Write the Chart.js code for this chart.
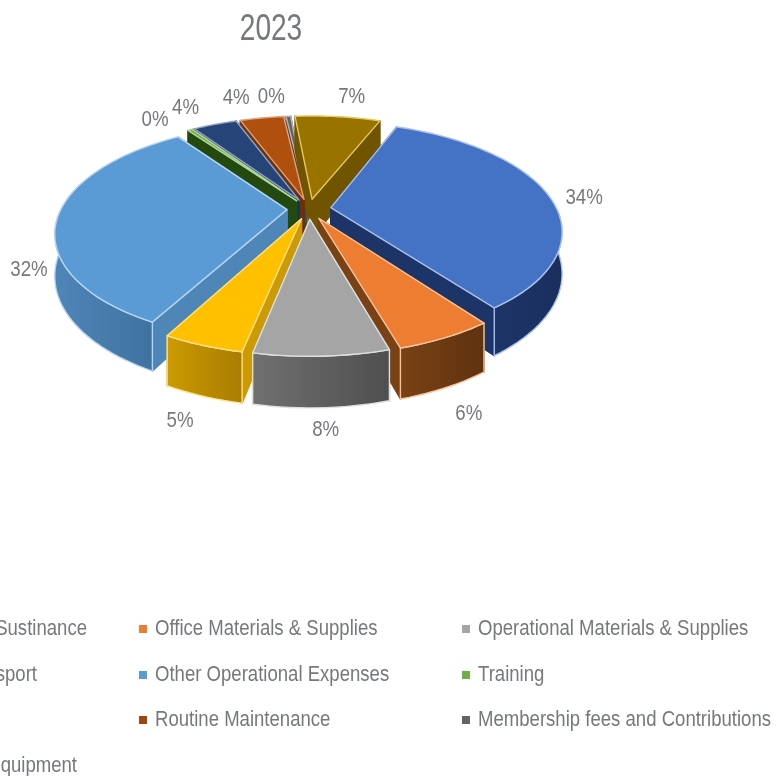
<!DOCTYPE html>
<html>
<head>
<meta charset="utf-8">
<title>2023</title>
<script src="https://cdn.jsdelivr.net/npm/chart.js@4"></script>
<style>
  html, body { margin: 0; background: #fff; overflow: hidden; }
  canvas { display: block; }
</style>
</head>
<body>
<canvas id="myChart" width="776" height="776"></canvas>
<script>
const chartTitle = "2023";
const categories = ["Sustinance", "Office Materials & Supplies", "Operational Materials & Supplies",
  "Transport", "Other Operational Expenses", "Training", "",
  "Routine Maintenance", "Membership fees and Contributions", "Equipment"];
const shares = [34, 5.6, 7.6, 4.6, 32.4, 0.4, 3.8, 3.8, 0.4, 7.4];

const topColors  = ["#4472c4", "#ed7d31", "#a5a5a5", "#ffc000", "#5b9bd5", "#70ad47", "#264478", "#b0500f", "#636363", "#997300"];
const sideColors = ["#1d3468", "#7a4214", "#707070", "#cc9a02", "#4f86b8", "#24490f", "#1c3358", "#6b320a", "#4a4a4a", "#705400"];
const sideEnds   = ["#1a2f5e", "#60320f", "#4f4f4f", "#a87d02", "#3f729f", "#24490f", "#1c3358", "#6b320a", "#4a4a4a", "#705400"];
const edgeColors = ["#a9c0ea", "#f6c39d", "#e0e0e0", "#ffe08a", "#b5d5f0", "#b5d5a0", "#8fa3c8", "#e0a27a", "#b5b5b5", "#e5c85a"];
// label shift from the spot the projection gives
const labelShift = [[8, 5], [2, 4], [2, -4], [-6, 1], [2, 12], [-23, -2], [-20, -8], [-21, -11], [-15, -10], [11, -11]];

// pie plane -> screen
const tilt = 0.46;
const persp = 1100;
const depth = 40;
const textColor = "#75787d";

function project(arc, px, py, pz) {
  const f = persp / (persp - py);
  return [arc.x + px * f, arc.y + py * tilt * f + pz * f];
}

function tracePoints(ctx, pts) {
  ctx.beginPath();
  pts.forEach((p, i) => i ? ctx.lineTo(p[0], p[1]) : ctx.moveTo(p[0], p[1]));
  ctx.closePath();
}

function fillShape(ctx, pts, fill, edge) {
  tracePoints(ctx, pts);
  ctx.fillStyle = fill;
  ctx.fill();
  ctx.strokeStyle = edge;
  ctx.lineWidth = 1.4;
  ctx.lineJoin = "round";
  ctx.stroke();
}

function drawSlice(ctx, arc, i) {
  const mid = (arc.startAngle + arc.endAngle) / 2;
  const off = arc.options.offset;
  const ox = Math.cos(mid) * off, oy = Math.sin(mid) * off;
  const rim = [];
  const front = [];
  const steps = Math.max(2, Math.ceil((arc.endAngle - arc.startAngle) * 30));
  for (let s = 0; s <= steps; s++) {
    const a = arc.startAngle + (arc.endAngle - arc.startAngle) * s / steps;
    const p = [ox + Math.cos(a) * arc.outerRadius, oy + Math.sin(a) * arc.outerRadius];
    rim.push(p);
    if (Math.sin(a) > 0) front.push(p);
  }
  const up = p => project(arc, p[0], p[1], 0);
  const down = p => project(arc, p[0], p[1], depth);
  const tip = [ox, oy];

  // radial walls
  [rim[0], rim[steps]].forEach(p => {
    fillShape(ctx, [up(tip), up(p), down(p), down(tip)], sideColors[i], sideColors[i]);
  });
  // outer wall, only the part that faces the viewer
  if (front.length > 1) {
    const wall = front.map(up).concat(front.slice().reverse().map(down));
    const xs = wall.map(p => p[0]);
    const grad = ctx.createLinearGradient(Math.min(...xs), 0, Math.max(...xs), 0);
    grad.addColorStop(0, sideColors[i]);
    grad.addColorStop(1, sideEnds[i]);
    fillShape(ctx, wall, grad, edgeColors[i]);
  }
  // top
  fillShape(ctx, [up(tip)].concat(rim.map(up)), topColors[i], edgeColors[i]);
}

function drawText(ctx, text, x, y, size, align, squeeze) {
  ctx.save();
  ctx.translate(x, y);
  ctx.scale(squeeze, 1);
  ctx.font = size + 'px "Liberation Sans"';
  ctx.fillStyle = textColor;
  ctx.textAlign = align;
  ctx.textBaseline = "middle";
  ctx.fillText(text, 0, 0);
  ctx.restore();
}

const pie3d = {
  id: "pie3d",
  beforeDatasetDraw(chart) {
    const ctx = chart.ctx;
    const arcs = chart.getDatasetMeta(0).data;
    const order = arcs.map((a, i) => i).sort((a, b) =>
      Math.sin((arcs[a].startAngle + arcs[a].endAngle) / 2) - Math.sin((arcs[b].startAngle + arcs[b].endAngle) / 2));
    order.forEach(i => drawSlice(ctx, arcs[i], i));
    return false;
  },
  afterDraw(chart) {
    const ctx = chart.ctx;
    const arcs = chart.getDatasetMeta(0).data;
    const total = shares.reduce((a, b) => a + b, 0);
    drawText(ctx, chartTitle, 271, 30, 36, "center", 0.78);
    arcs.forEach((arc, i) => {
      const mid = (arc.startAngle + arc.endAngle) / 2;
      const r = arc.outerRadius + arc.options.offset + 30;
      const py = Math.sin(mid) * r;
      const p = project(arc, Math.cos(mid) * r, py, py > 0 ? depth : 0);
      drawText(ctx, Math.round(shares[i] / total * 100) + "%", p[0] + labelShift[i][0], p[1] + labelShift[i][1], 22, "center", 0.85);
    });
    // legend, three columns, first one runs off the page
    const rows = [629, 675, 720, 766];
    [[1, 1, 0], [4, 1, 1], [7, 1, 2], [2, 2, 0], [5, 2, 1], [8, 2, 2]].forEach(([i, col, row]) => {
      const sx = col === 1 ? 139 : 462;
      ctx.fillStyle = i === 7 ? "#9e480e" : topColors[i];
      ctx.fillRect(sx, rows[row] - 4, 8, 8);
      drawText(ctx, categories[i], sx + 16, rows[row], 22.5, "left", 0.825);
    });
    [[0, 87, 0], [3, 37, 1], [9, 77, 3]].forEach(([i, end, row]) => {
      drawText(ctx, categories[i], end, rows[row], 22.5, "right", 0.825);
    });
  }
};

new Chart(document.getElementById("myChart"), {
  type: "pie",
  data: {
    labels: categories,
    datasets: [{ data: shares, backgroundColor: topColors, radius: 226, offset: 22, borderWidth: 0 }]
  },
  options: {
    responsive: false,
    animation: false,
    rotation: 21.5,
    layout: { padding: { right: 158, bottom: 358 } },
    plugins: { legend: { display: false }, tooltip: { enabled: false } }
  },
  plugins: [pie3d]
});
</script>
</body>
</html>
